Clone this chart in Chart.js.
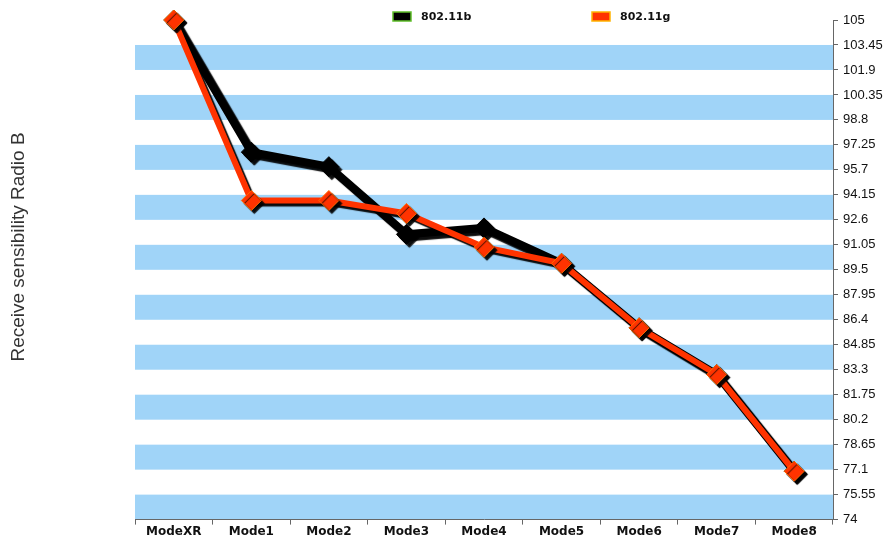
<!DOCTYPE html>
<html>
<head>
<meta charset="utf-8">
<title>Receive sensibility Radio B</title>
<script src="https://cdn.jsdelivr.net/npm/chart.js@4/dist/chart.umd.min.js"></script>
<style>
  body { margin: 0; background: #fff; }
  canvas { display: block; }
</style>
</head>
<body>
<canvas id="chart" width="890" height="539"></canvas>
<script>
// chart data
const modes = ['ModeXR', 'Mode1', 'Mode2', 'Mode3', 'Mode4', 'Mode5', 'Mode6', 'Mode7', 'Mode8'];
const values80211b = [105, 96.8, 95.9, 91.7, 92.1, 89.9, 85.9, 83.0, 77.0];
const values80211g = [105, 93.8, 93.8, 93.0, 90.9, 89.9, 85.9, 83.0, 77.0];
const yTickLabels = ['74', '75.55', '77.1', '78.65', '80.2', '81.75', '83.3', '84.85', '86.4', '87.95',
  '89.5', '91.05', '92.6', '94.15', '95.7', '97.25', '98.8', '100.35', '101.9', '103.45', '105'];
const yTickValues = yTickLabels.map(Number);
const yTitle = 'Receive sensibility Radio B';

const bandColor = '#a0d4f8';
const legendEdge = ['#5fbf2a', '#ffb400'];

// alternating blue stripes between the y ticks
const stripes = {
  id: 'stripes',
  beforeDraw(chart) {
    const { ctx, chartArea } = chart;
    const y = chart.scales.y;
    ctx.save();
    ctx.fillStyle = bandColor;
    for (let i = 0; i < yTickValues.length - 1; i += 2) {
      const top = y.getPixelForValue(yTickValues[i + 1]);
      const bottom = y.getPixelForValue(yTickValues[i]);
      ctx.fillRect(chartArea.left, top, chartArea.right - chartArea.left, bottom - top);
    }
    ctx.restore();
  }
};

// drop shadow under the lines
const shadow = {
  id: 'shadow',
  beforeDatasetDraw(chart) {
    const ctx = chart.ctx;
    ctx.save();
    ctx.shadowColor = 'rgba(0,0,0,0.95)';
    ctx.shadowOffsetX = 3;
    ctx.shadowOffsetY = 3;
    ctx.shadowBlur = 1;
  },
  afterDatasetDraw(chart) {
    chart.ctx.restore();
  }
};

// legend on top, items spread out like the original, plus the far-left axis title
const labelsPlugin = {
  id: 'labels',
  afterDraw(chart) {
    const ctx = chart.ctx;
    const startX = [393, 592];
    ctx.save();
    ctx.font = 'bold 11px "DejaVu Sans", sans-serif';
    ctx.textBaseline = 'middle';
    chart.data.datasets.forEach((ds, i) => {
      const x = startX[i];
      ctx.fillStyle = ds.borderColor;
      ctx.strokeStyle = legendEdge[i];
      ctx.lineWidth = 1.5;
      ctx.fillRect(x, 12, 18, 9);
      ctx.strokeRect(x, 12, 18, 9);
      ctx.fillStyle = '#111';
      ctx.fillText(ds.label, x + 28, 17);
    });

    ctx.translate(19, 247);
    ctx.rotate(-Math.PI / 2);
    ctx.font = '19px "Liberation Sans", Arial, sans-serif';
    ctx.fillStyle = '#333';
    ctx.textAlign = 'center';
    ctx.fillText(yTitle, 0, 0);
    ctx.restore();
  }
};

const ctx = document.getElementById('chart').getContext('2d');
const chart = new Chart(ctx, {
  type: 'line',
  data: {
    labels: modes,
    datasets: [{
      label: '802.11b',
      data: values80211b,
      borderColor: '#000000',
      backgroundColor: '#000000',
      borderWidth: 8,
      pointStyle: 'rectRot',
      pointRadius: 10,
      pointBorderWidth: 1,
      pointBackgroundColor: '#000000',
      pointBorderColor: '#000000',
      tension: 0,
      clip: false,
      order: 2
    }, {
      label: '802.11g',
      data: values80211g,
      borderColor: '#ff3300',
      backgroundColor: '#ff3300',
      borderWidth: 6,
      pointStyle: 'rectRot',
      pointRadius: 10,
      pointBorderWidth: 1,
      pointBackgroundColor: '#ff3300',
      pointBorderColor: '#ff6a00',
      tension: 0,
      clip: false,
      order: 1
    }]
  },
  options: {
    responsive: false,
    animation: false,
    layout: { padding: { top: 20, bottom: 0, left: 135, right: 0 } },
    plugins: {
      legend: { display: false },
      tooltip: { enabled: false }
    },
    scales: {
      x: {
        offset: true,
        grid: { offset: true, drawOnChartArea: false, tickLength: 5, color: '#666' },
        border: { color: '#666' },
        ticks: {
          padding: 0,
          color: '#111',
          maxRotation: 0,
          font: { family: '"DejaVu Sans", sans-serif', size: 12, weight: 'bold' }
        }
      },
      y: {
        position: 'right',
        min: 74,
        max: 105,
        afterBuildTicks: (scale) => {
          scale.ticks = yTickValues.map(v => ({ value: v }));
        },
        afterFit: (scale) => { scale.width = 57; },
        grid: { drawOnChartArea: false, tickLength: 5, color: '#666' },
        border: { color: '#666' },
        ticks: {
          padding: 5,
          color: '#111',
          font: { family: '"Liberation Sans", Arial, sans-serif', size: 13 },
          callback: (value, index) => yTickLabels[index]
        }
      }
    }
  },
  plugins: [stripes, shadow, labelsPlugin]
});
</script>
</body>
</html>
